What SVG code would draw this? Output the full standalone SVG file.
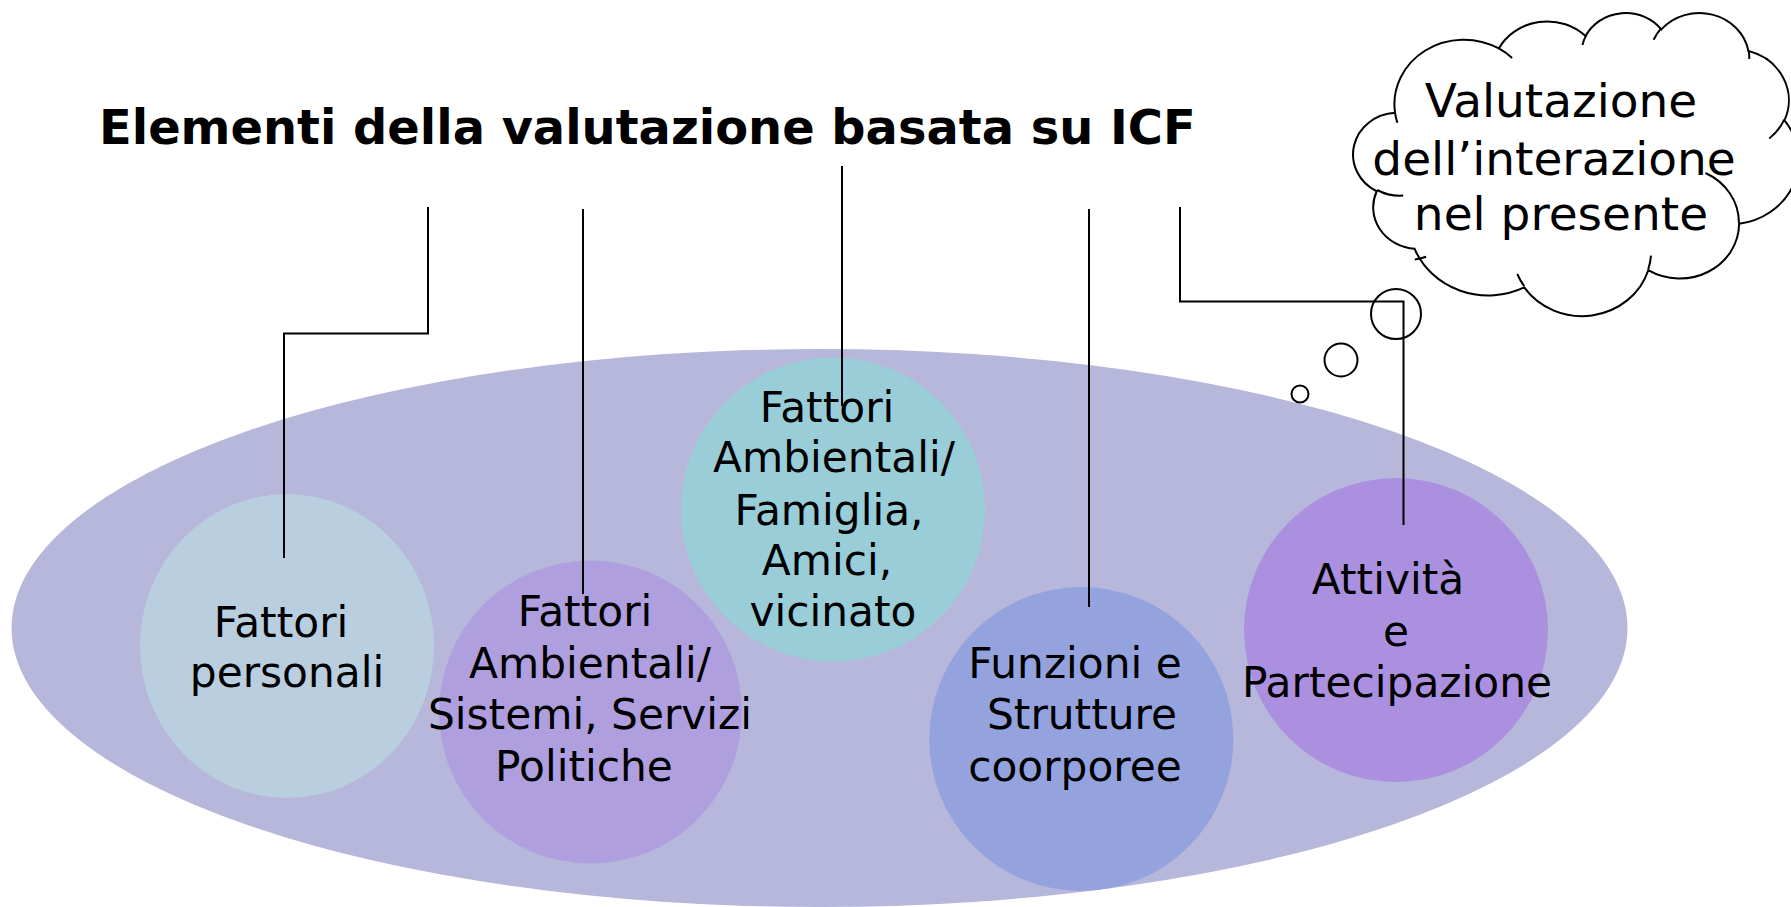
<svg xmlns="http://www.w3.org/2000/svg" width="1791" height="907" viewBox="0 0 1791 907">
<style>
.t{font-family:"DejaVu Sans","Liberation Sans",sans-serif;font-size:42.3px;fill:#000;text-anchor:middle}
.c{font-family:"DejaVu Sans","Liberation Sans",sans-serif;font-size:47px;fill:#000;text-anchor:middle}
.ln{fill:none;stroke:#000;stroke-width:2}
.ol{fill:#fff;stroke:#000;stroke-width:2}
.hk{fill:none;stroke:#000;stroke-width:2}
</style>
<rect width="1791" height="907" fill="#fff"/>
<text x="99" y="144" font-family="DejaVu Sans, Liberation Sans, sans-serif" font-weight="bold" font-size="47.9">Elementi della valutazione basata su ICF</text>
<g id="ambito">
<ellipse cx="819.5" cy="628" rx="808" ry="279" fill="#B6B7DB"/>
</g>
<g id="fattori-personali">
<ellipse cx="287" cy="646" rx="147" ry="152" fill="#B9CEDF"/>
<text class="t" x="281" y="637">Fattori</text>
<text class="t" x="287" y="687">personali</text>
</g>
<g id="fattori-ambientali-sistemi">
<ellipse cx="590.5" cy="712" rx="151.5" ry="151.5" fill="#AF9FDE"/>
<text class="t" x="585" y="626">Fattori</text>
<text class="t" x="590" y="678">Ambientali/</text>
<text class="t" x="590" y="729">Sistemi, Servizi</text>
<text class="t" x="584" y="781">Politiche</text>
</g>
<g id="fattori-ambientali-famiglia">
<ellipse cx="833" cy="509.5" rx="152" ry="152" fill="#99CED8"/>
<text class="t" x="827" y="422">Fattori</text>
<text class="t" x="834" y="472">Ambientali/</text>
<text class="t" x="829" y="525">Famiglia,</text>
<text class="t" x="827" y="575">Amici,</text>
<text class="t" x="833" y="626">vicinato</text>
</g>
<g id="funzioni-strutture">
<ellipse cx="1081.3" cy="739" rx="152" ry="152" fill="#94A3DE"/>
<text class="t" x="1075" y="678">Funzioni e</text>
<text class="t" x="1082" y="729">Strutture</text>
<text class="t" x="1075" y="781">coorporee</text>
</g>
<g id="attivita-partecipazione">
<ellipse cx="1396" cy="630" rx="152" ry="152" fill="#AA90DE"/>
<text class="t" x="1388" y="594">Attività</text>
<text class="t" x="1396" y="646">e</text>
<text class="t" x="1397" y="697">Partecipazione</text>
</g>
<g id="nuvola">
<path class="ol" d="M1395.05,112.79 A69.35,64.46 0 0 1 1498.82,48.49 A54.76,50.97 0 0 1 1585.60,36.06 A44.82,41.70 0 0 1 1661.35,29.37 A49.88,46.26 0 0 1 1748.48,51.09 A54.76,51.01 0 0 1 1784.42,120.41 A69.57,64.67 0 0 1 1739.11,223.84 A59.41,55.18 0 0 1 1648.25,270.21 A69.34,64.63 0 0 1 1524.26,287.42 A79.28,73.95 0 0 1 1414.63,248.82 A44.77,41.51 0 0 1 1376.71,191.24 A44.62,41.70 0 0 1 1395.05,112.79 Z"/>
<path class="hk" d="M1403.2,195.6 A44.62,41.70 0 0 1 1377.2,190.0 M1426.1,256.8 A44.77,41.51 0 0 1 1414.8,259.4 M1524.2,286.2 A69.34,64.63 0 0 1 1517.3,274.0 M1651.0,255.7 A69.34,64.63 0 0 1 1648.3,269.1 M1705.5,173.0 A59.41,55.18 0 0 1 1738.9,223.0 M1784.2,119.7 A54.76,51.01 0 0 1 1769.3,138.5 M1748.6,50.1 A49.88,46.26 0 0 1 1749.3,58.9 M1653.6,39.7 A49.88,46.26 0 0 1 1661.2,28.4 M1582.4,45.1 A44.82,41.70 0 0 1 1586.1,35.4 M1498.8,48.4 A69.35,64.46 0 0 1 1512.1,57.9 M1397.4,122.7 A69.35,64.46 0 0 1 1395.05,112.8"/>
<circle class="ol" cx="1396" cy="314" r="25"/>
<circle class="ol" cx="1341" cy="360" r="16.5"/>
<circle class="ol" cx="1300" cy="394" r="8.5"/>
<text class="c" x="1561" y="117">Valutazione</text>
<text class="c" x="1554" y="175">dell’interazione</text>
<text class="c" x="1561" y="230">nel presente</text>
</g>
<g id="connettori">
<polyline class="ln" points="428,207 428,333.5 284,333.5 284,558"/>
<line class="ln" x1="583" y1="209" x2="583" y2="594"/>
<line class="ln" x1="842" y1="166" x2="842" y2="406"/>
<line class="ln" x1="1089" y1="209" x2="1089" y2="607"/>
<polyline class="ln" points="1180,207 1180,301.5 1403.5,301.5 1403.5,525"/>
</g>
</svg>
